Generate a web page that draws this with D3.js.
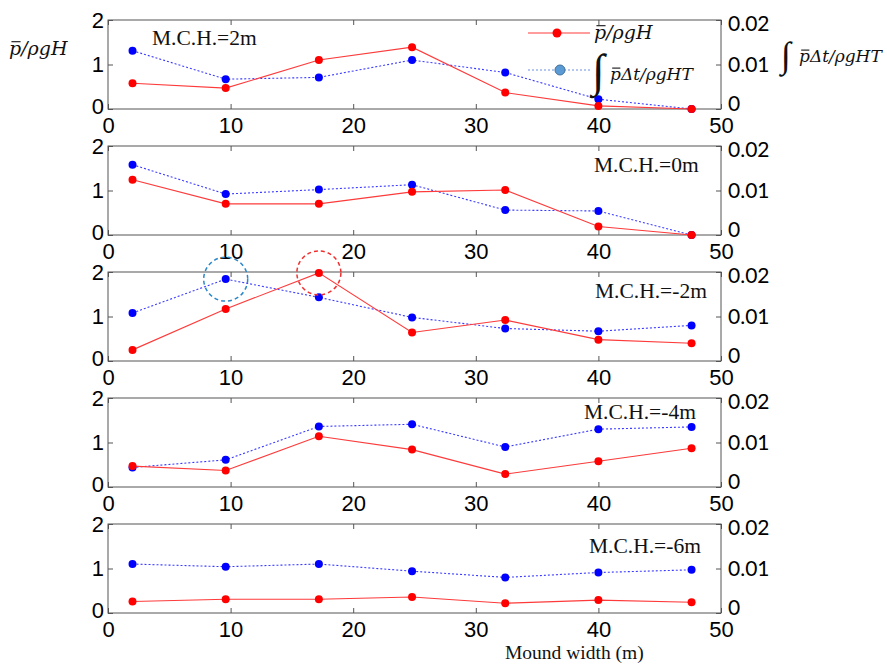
<!DOCTYPE html>
<html>
<head>
<meta charset="utf-8">
<script src="https://cdn.jsdelivr.net/npm/d3@7"></script>
<style>
  body { margin: 0; background: #fff; }
  svg { display: block; }
</style>
</head>
<body>
<svg id="chart" width="887" height="664"></svg>
<script>
// Mound widths (m) at which the wave pressure was sampled
const mound = [2, 9.6, 17.2, 24.8, 32.4, 40, 47.6];

// Mound crown height of each panel
const crestLabels = ["M.C.H.=2m", "M.C.H.=0m", "M.C.H.=-2m", "M.C.H.=-4m", "M.C.H.=-6m"];

// Mean pressure p̄/ρgH (left axis), one row per crown height
const pressure = [
  [0.58, 0.47, 1.10, 1.39, 0.37, 0.07, 0.00],
  [1.24, 0.70, 0.70, 0.97, 1.01, 0.19, 0.00],
  [0.25, 1.17, 1.98, 0.64, 0.92, 0.48, 0.40],
  [0.47, 0.37, 1.14, 0.84, 0.29, 0.58, 0.87],
  [0.26, 0.31, 0.31, 0.36, 0.22, 0.29, 0.24]
];

// Impulse ∫p̄Δt/ρgHT (right axis), one row per crown height
const impulse = [
  [0.0131, 0.0067, 0.0071, 0.0110, 0.0082, 0.0022, 0.0000],
  [0.0158, 0.0092, 0.0102, 0.0113, 0.0056, 0.0054, 0.0000],
  [0.0108, 0.0184, 0.0143, 0.0098, 0.0073, 0.0067, 0.0080],
  [0.0044, 0.0061, 0.0136, 0.0141, 0.0090, 0.0130, 0.0135],
  [0.0110, 0.0104, 0.0110, 0.0094, 0.0080, 0.0091, 0.0097]
];

// Tick values
const xTicks = [0, 10, 20, 30, 40, 50];
const leftTicks = [0, 1, 2];
const rightTicks = [0, 0.01, 0.02];

// Peak values ringed in the M.C.H.=-2m panel
const highlights = [
  { panel: 2, series: "impulse", index: 1, color: "#2b88c8" },
  { panel: 2, series: "pressure", index: 2, color: "#f03030" }
];

const svg = d3.select("#chart");
const left = 108, right = 721, firstTop = 20, panelH = 89, panelStep = 126;
const x = d3.scaleLinear().domain([0, 50]).range([left, right]);

const RED = "#ff0000", RED_LINE = "#ff3a3a";
const BLUE = "#0000ff", BLUE_LINE = "#3b3bff";
const SANS = "'Liberation Sans', Arial, sans-serif";
const SERIF = "'Liberation Serif', 'Times New Roman', serif";
const MATH = "'DejaVu Serif', serif";

// Draws an italic math expression piece by piece, with an overbar where asked
function mathText(g, x0, y0, pieces, size) {
  let cx = x0;
  pieces.forEach(p => {
    const fs = p.size || size;
    const t = g.append("text")
      .attr("x", cx).attr("y", y0 + (p.dy || 0))
      .attr("font-family", p.family || MATH)
      .attr("font-style", p.upright ? "normal" : "italic")
      .attr("font-size", fs)
      .attr("fill", "#111")
      .text(p.t);
    const w = t.node().getComputedTextLength();
    if (p.bar) {
      g.append("line")
        .attr("x1", cx + w * 0.2).attr("x2", cx + w * 0.95)
        .attr("y1", y0 - fs * 0.7).attr("y2", y0 - fs * 0.7)
        .attr("stroke", "#111").attr("stroke-width", 1.1);
    }
    cx += w + (p.gap || 0);
  });
}

crestLabels.forEach((label, i) => {
  const top = firstTop + i * panelStep, bottom = top + panelH;
  const yL = d3.scaleLinear().domain([0, 2]).range([bottom, top]);
  const yR = d3.scaleLinear().domain([0, 0.02]).range([bottom, top]);
  const g = svg.append("g");

  // Bottom axis with labels, inward ticks
  const bx = g.append("g").attr("transform", `translate(0,${bottom})`)
    .call(d3.axisBottom(x).tickValues(xTicks).tickSizeInner(-5).tickSizeOuter(0).tickPadding(8).tickFormat(d3.format("d")));
  // Top axis, ticks only
  g.append("g").attr("transform", `translate(0,${top})`)
    .call(d3.axisTop(x).tickValues(xTicks).tickSizeInner(-5).tickSizeOuter(0).tickFormat(""));
  // Left axis
  const ly = g.append("g").attr("transform", `translate(${left},0)`)
    .call(d3.axisLeft(yL).tickValues(leftTicks).tickSizeInner(-5).tickSizeOuter(0).tickPadding(4).tickFormat(d3.format("d")));
  // Right axis
  const ry = g.append("g").attr("transform", `translate(${right},0)`)
    .call(d3.axisRight(yR).tickValues(rightTicks).tickSizeInner(-5).tickSizeOuter(0).tickPadding(7)
      .tickFormat(d => d === 0 ? "0" : d3.format(".2f")(d)));

  g.selectAll(".domain").remove();
  g.selectAll(".tick line").attr("stroke", "#555");
  bx.selectAll("text").attr("font-family", SANS).attr("font-size", 22).attr("fill", "#000");
  ly.selectAll("text").attr("font-family", SANS).attr("font-size", 22).attr("fill", "#000")
    .attr("dy", d => d === 0 ? "0.22em" : "0.32em");
  ry.selectAll("text").attr("font-family", "Lato, 'Open Sans', sans-serif").attr("font-size", 21).attr("fill", "#000")
    .attr("dy", d => d === 0.02 ? "0.52em" : d === 0 ? "0.05em" : "0.34em");

  // Plot frame
  g.append("rect").attr("x", left).attr("y", top).attr("width", right - left).attr("height", panelH)
    .attr("fill", "none").attr("stroke", "#555").attr("stroke-width", 1);

  // Impulse series: dotted blue
  const lineR = d3.line().x((d, j) => x(mound[j])).y(d => yR(d));
  g.append("path").datum(impulse[i]).attr("d", lineR)
    .attr("fill", "none").attr("stroke", BLUE_LINE).attr("stroke-width", 1.1).attr("stroke-dasharray", "2,2");
  g.selectAll(".dotB").data(impulse[i]).join("circle")
    .attr("cx", (d, j) => x(mound[j])).attr("cy", d => yR(d)).attr("r", 4).attr("fill", BLUE);

  // Pressure series: solid red
  const lineL = d3.line().x((d, j) => x(mound[j])).y(d => yL(d));
  g.append("path").datum(pressure[i]).attr("d", lineL)
    .attr("fill", "none").attr("stroke", RED_LINE).attr("stroke-width", 1.1);
  g.selectAll(".dotR").data(pressure[i]).join("circle")
    .attr("cx", (d, j) => x(mound[j])).attr("cy", d => yL(d)).attr("r", 4).attr("fill", RED);

  // Crown height label
  const lx = [152, 594, 595, 584, 589][i];
  const lyPos = top + [25, 26, 26, 21, 29][i];
  g.append("text").attr("x", lx).attr("y", lyPos)
    .attr("font-family", SERIF).attr("font-size", 21.5).attr("fill", "#111").text(label);

  // Dashed rings around the peak values
  highlights.filter(h => h.panel === i).forEach(h => {
    const cy = h.series === "impulse" ? yR(impulse[i][h.index]) : yL(pressure[i][h.index]);
    g.append("circle").attr("cx", x(mound[h.index])).attr("cy", cy).attr("r", 22)
      .attr("fill", "none").attr("stroke", h.color).attr("stroke-width", 1.5).attr("stroke-dasharray", "4,3");
  });
});

// Legend inside the top panel
const lg = svg.append("g");
lg.append("line").attr("x1", 528).attr("x2", 590).attr("y1", 33).attr("y2", 33)
  .attr("stroke", RED_LINE).attr("stroke-width", 1.1);
lg.append("circle").attr("cx", 557).attr("cy", 33).attr("r", 4.5).attr("fill", RED);
mathText(lg, 594, 39, [{ t: "p", bar: true }, { t: "/ρgH" }], 19);

lg.append("line").attr("x1", 528).attr("x2", 590).attr("y1", 70).attr("y2", 70)
  .attr("stroke", "#6f8fe0").attr("stroke-width", 1.1).attr("stroke-dasharray", "2,2");
lg.append("circle").attr("cx", 560).attr("cy", 70).attr("r", 5)
  .attr("fill", "#5b9bd5").attr("stroke", "#41719c").attr("stroke-width", 1);
mathText(lg, 592, 86, [{ t: "∫", upright: true, family: SERIF, size: 46 }], 17);
mathText(lg, 610, 80, [{ t: "p", bar: true }, { t: "Δt/ρgHT" }], 17);

// Axis titles
mathText(svg, 9, 55, [{ t: "p", bar: true }, { t: "/ρgH" }], 19);
mathText(svg, 781, 67, [{ t: "∫", upright: true, family: SERIF, size: 36 }], 17);
mathText(svg, 799, 62, [{ t: "p", bar: true }, { t: "Δt/ρgHT" }], 17);

svg.append("text").attr("x", 505).attr("y", 659)
  .attr("font-family", SERIF).attr("font-size", 19.5).attr("fill", "#111").text("Mound width (m)");
</script>
</body>
</html>
